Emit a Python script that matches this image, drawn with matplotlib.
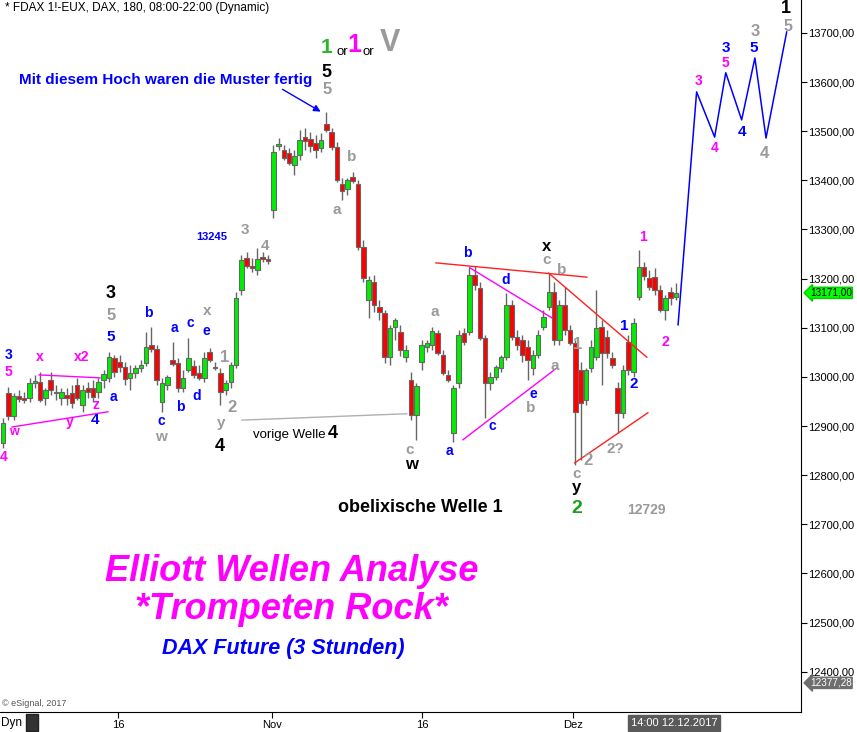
import numpy as np
import matplotlib
matplotlib.use("Agg")
import matplotlib.pyplot as plt
import matplotlib.transforms as mtransforms
from matplotlib.patches import Rectangle

plt.rcParams['font.family'] = ['Liberation Sans', 'DejaVu Sans']

# 3h candles FDAX, (open, high, low, close)
ohlc = [
    (12865, 12916, 12855, 12906), (12967, 12979, 12912, 12920), (12920, 12967, 12912, 12961),
    (12961, 12973, 12949, 12955), (12957, 12969, 12947, 12953), (12957, 12998, 12949, 12988),
    (12988, 13004, 12977, 12990), (12990, 13010, 12949, 12953), (12957, 12977, 12943, 12973),
    (12994, 13010, 12963, 12973), (12969, 12984, 12953, 12967), (12957, 12977, 12943, 12969),
    (12963, 12977, 12943, 12957), (12967, 12984, 12937, 12947), (12984, 12998, 12953, 12957),
    (12943, 12984, 12929, 12973), (12977, 12990, 12957, 12969), (12977, 12994, 12949, 12959),
    (12969, 12998, 12957, 12990), (12994, 13014, 12977, 13006), (12998, 13051, 12990, 13040),
    (13038, 13045, 13000, 13010), (13030, 13045, 13010, 13020), (13020, 13030, 12984, 12996),
    (12998, 13024, 12973, 13008), (13008, 13024, 12998, 13018), (13018, 13034, 13010, 13024),
    (13028, 13091, 13022, 13061), (13065, 13102, 13051, 13057), (13057, 13065, 12984, 12994),
    (12949, 12998, 12929, 12988), (12984, 13004, 12973, 13000), (13034, 13071, 13022, 13026),
    (13028, 13038, 12969, 12977), (12977, 13014, 12969, 12998), (13014, 13079, 13010, 13038),
    (13022, 13034, 12998, 13004), (13008, 13024, 12994, 12998), (12998, 13051, 12990, 13038),
    (13051, 13059, 13030, 13034), (13020, 13030, 13014, 13018), (13008, 13018, 12943, 12969),
    (12973, 12994, 12963, 12988), (12990, 13030, 12977, 13024), (13024, 13173, 13018, 13161),
    (13177, 13248, 13167, 13238), (13242, 13254, 13222, 13226), (13226, 13242, 13213, 13222),
    (13218, 13262, 13207, 13240), (13244, 13254, 13234, 13240), (13238, 13248, 13230, 13236),
    (13340, 13472, 13323, 13458), (13470, 13486, 13462, 13474), (13462, 13472, 13441, 13445),
    (13456, 13466, 13431, 13435), (13431, 13462, 13411, 13450), (13452, 13502, 13441, 13482),
    (13488, 13506, 13462, 13480), (13484, 13498, 13458, 13470), (13476, 13492, 13445, 13462),
    (13466, 13496, 13458, 13482), (13515, 13539, 13498, 13502), (13498, 13506, 13462, 13468),
    (13468, 13478, 13397, 13401), (13393, 13405, 13360, 13378), (13382, 13405, 13370, 13401),
    (13407, 13417, 13395, 13399), (13393, 13401, 13258, 13264), (13264, 13279, 13193, 13201),
    (13157, 13205, 13120, 13197), (13193, 13207, 13132, 13146), (13142, 13157, 13116, 13132),
    (13130, 13136, 13028, 13040), (13040, 13106, 13024, 13100), (13102, 13120, 13075, 13116),
    (13091, 13106, 13043, 13055), (13040, 13065, 13030, 13055), (12994, 13010, 12912, 12922),
    (12922, 12988, 12872, 12981), (13030, 13075, 13014, 13065), (13061, 13075, 13051, 13069),
    (13065, 13102, 13055, 13093), (13089, 13095, 13045, 13049), (13045, 13055, 13004, 13008),
    (13004, 13014, 12990, 12994), (12886, 12984, 12868, 12977), (12988, 13095, 12977, 13085),
    (13089, 13100, 13065, 13071), (13091, 13224, 13085, 13207), (13207, 13226, 13177, 13187),
    (13181, 13193, 13075, 13079), (13079, 13085, 12916, 12988), (12988, 13010, 12973, 13000),
    (13000, 13024, 12994, 13020), (13018, 13045, 13010, 13040), (13040, 13171, 13034, 13146),
    (13146, 13157, 13075, 13081), (13081, 13095, 13055, 13065), (13075, 13085, 13030, 13045),
    (13061, 13075, 12994, 13034), (13018, 13055, 13004, 13045), (13045, 13095, 13038, 13085),
    (13102, 13136, 13095, 13122), (13142, 13211, 13136, 13173), (13173, 13193, 13065, 13075),
    (13075, 13157, 13065, 13146), (13146, 13183, 13085, 13095), (13095, 13106, 13065, 13069),
    (13069, 13075, 12821, 12929), (13014, 13030, 12831, 12947), (12953, 13018, 12943, 13014),
    (13018, 13075, 13010, 13061), (13040, 13177, 13034, 13100), (13102, 13116, 12984, 13049),
    (13081, 13095, 13038, 13049), (13038, 13051, 13018, 13024), (12977, 12990, 12886, 12927),
    (12927, 13024, 12916, 13014), (13071, 13085, 13004, 13014), (13010, 13120, 13000, 13110),
    (13163, 13258, 13157, 13224), (13224, 13234, 13197, 13205), (13201, 13218, 13177, 13183),
    (13204, 13222, 13167, 13177), (13177, 13187, 13132, 13136), (13136, 13167, 13116, 13161),
    (13173, 13183, 13146, 13161), (13163, 13191, 13157, 13171),
]
opens, highs, lows, closes = np.array(ohlc, dtype=float).T

# projected wave path (bar index, price)
proj_x = [127.4, 130.9, 134.3, 136.4, 139.4, 141.9, 144.0, 147.9]
proj_y = [13106, 13580, 13488, 13619, 13523, 13649, 13486, 13702]

date_pos = [21.7, 50.8, 79.1, 107.5]
date_labels = ['16', 'Nov', '16', 'Dez']
price_ticks = np.arange(12400, 13701, 100)
last_price = 13171.00
low_price = 12377.28

# trend lines: (x0, y0, x1, y1, color)
trend_lines = [
    (6.8, 13004, 18.3, 12998, '#ff00ff'),
    (1.7, 12898, 19.8, 12929, '#ff00ff'),
    (45.1, 12912, 76.2, 12925, '#b0b0b0'),
    (81.7, 13232, 110.2, 13203, '#ff2020'),
    (88.1, 13222, 103.6, 13120, '#ff00ff'),
    (86.8, 12872, 104.5, 13018, '#ff00ff'),
    (103.0, 13211, 121.5, 13040, '#ff2020'),
    (107.9, 12825, 121.7, 12927, '#ff2020'),
]

BLUE, MAG, GREY, BLK = '#0000ff', '#ff00ff', '#9a9a9a', '#000000'
# wave labels: (text, x, price, color, size)
labels = [
    ('3', 1.1, 13045, BLUE, 10), ('5', 1.1, 13010, MAG, 10), ('4', 0.2, 12837, MAG, 10),
    ('w', 2.1, 12888, MAG, 9), ('x', 7.0, 13040, MAG, 10), ('x2', 14.9, 13040, MAG, 10),
    ('y', 12.5, 12908, MAG, 10), ('z', 17.5, 12943, MAG, 10), ('4', 17.4, 12912, BLUE, 11),
    ('a', 20.8, 12959, BLUE, 10), ('3', 20.4, 13169, BLK, 13), ('5', 20.4, 13124, GREY, 12),
    ('5', 20.4, 13081, BLUE, 11), ('b', 27.5, 13130, BLUE, 10), ('c', 29.8, 12910, BLUE, 10),
    ('w', 29.8, 12878, GREY, 11), ('a', 32.3, 13100, BLUE, 10), ('c', 35.3, 13110, BLUE, 10),
    ('e', 38.3, 13093, BLUE, 10), ('x', 38.5, 13134, GREY, 11), ('b', 33.4, 12939, BLUE, 10),
    ('d', 36.6, 12961, BLUE, 10), ('1', 41.9, 13040, GREY, 12), ('2', 43.2, 12937, GREY, 12),
    ('y', 41.1, 12906, GREY, 11), ('4', 40.9, 12859, BLK, 13), ('13245', 39.4, 13285, BLUE, 8),
    ('3', 45.7, 13299, GREY, 11), ('4', 49.4, 13266, GREY, 11), ('4', 62.3, 12884, BLK, 13),
    ('5', 61.1, 13620, BLK, 13), ('5', 61.1, 13584, GREY, 12), ('b', 65.8, 13448, GREY, 11),
    ('a', 63.0, 13340, GREY, 11), ('c', 76.8, 12851, GREY, 11), ('w', 77.0, 12821, BLK, 12),
    ('a', 81.5, 13132, GREY, 11), ('a', 84.3, 12849, BLUE, 10), ('b', 87.7, 13252, BLUE, 10),
    ('c', 92.3, 12900, BLUE, 10), ('d', 94.9, 13197, BLUE, 10), ('e', 100.0, 12965, BLUE, 10),
    ('b', 99.6, 12937, GREY, 11), ('a', 104.2, 13022, GREY, 11), ('x', 102.5, 13266, BLK, 12),
    ('c', 102.6, 13238, GREY, 11), ('b', 105.5, 13218, GREY, 11), ('1', 108.5, 13065, GREY, 12),
    ('2', 110.4, 12829, GREY, 12), ('c', 108.3, 12802, GREY, 11), ('y', 108.3, 12774, BLK, 12),
    ('2', 108.3, 12733, '#1f9f1f', 14), ('2?', 115.5, 12853, GREY, 11), ('1', 117.2, 13104, BLUE, 11),
    ('2', 119.1, 12986, BLUE, 11), ('1', 120.8, 13285, MAG, 10), ('2', 124.9, 13071, MAG, 10),
    ('12729', 121.5, 12729, GREY, 10), ('3', 131.3, 13602, MAG, 10), ('4', 134.3, 13466, MAG, 10),
    ('3', 136.4, 13669, BLUE, 11), ('5', 136.4, 13639, MAG, 10), ('4', 139.4, 13498, BLUE, 11),
    ('3', 141.9, 13702, GREY, 12), ('5', 141.7, 13669, BLUE, 11), ('4', 143.6, 13454, GREY, 12),
    ('1', 147.7, 13750, BLK, 13), ('5', 148.1, 13714, GREY, 11.5),
]

W, H = 857, 732
fig = plt.figure(figsize=(W / 100, H / 100), dpi=100)
fig.patch.set_facecolor('white')
ax = fig.add_axes([0, 20 / H, 801 / W, 712 / H])
ax.set_xlim(-0.57, 150.6)
ax.set_ylim(12318, 13767)

idx = np.arange(len(closes))
up = closes >= opens
ax.vlines(idx, lows, highs, color='#666666', lw=1, zorder=2)
body_lo = np.minimum(opens, closes)
body_h = np.maximum(np.abs(closes - opens), 3)
ax.bar(idx, body_h, bottom=body_lo, width=0.86,
       color=np.where(up, '#00ee00', '#ff0000'), edgecolor='#666666',
       linewidth=0.8, zorder=3)

for x0, y0, x1, y1, c in trend_lines:
    ax.plot([x0, x1], [y0, y1], color=c, lw=1, zorder=4)

ax.plot(proj_x, proj_y, color='#0000ff', lw=1.1, zorder=4)

for t, x, y, c, s in labels:
    ax.text(x, y, t, color=c, fontsize=s, fontweight='bold', ha='center', va='center', zorder=5)

# header / notes
ax.text(30.6, 13604, 'Mit diesem Hoch waren die Muster fertig', color=BLUE,
        fontsize=11, fontweight='bold', ha='center', va='center')
ax.annotate('', xy=(60.4, 13537), xytext=(52.3, 13588),
            arrowprops=dict(arrowstyle='-|>', color=BLUE, lw=1, mutation_scale=10))
ax.text(61.1, 13671, '1', color='#2db52d', fontsize=15, fontweight='bold', ha='center', va='center')
ax.text(64.0, 13662, 'or', color=BLK, fontsize=9.5, ha='center', va='center')
ax.text(66.4, 13675, '1', color=MAG, fontsize=18, fontweight='bold', ha='center', va='center')
ax.text(68.9, 13662, 'or', color=BLK, fontsize=9.5, ha='center', va='center')
ax.text(73.0, 13680, 'V', color=GREY, fontsize=22, fontweight='bold', ha='center', va='center')
ax.text(47.2, 12882, 'vorige Welle', color=BLK, fontsize=9.5, ha='left', va='center')
ax.text(78.7, 12735, 'obelixische Welle 1', color=BLK, fontsize=13,
        fontweight='bold', ha='center', va='center')

ax.text(54.5, 12603, 'Elliott Wellen Analyse', color=MAG, fontsize=26,
        fontweight='bold', style='italic', ha='center', va='center')
ax.text(54.5, 12527, '*Trompeten Rock*', color=MAG, fontsize=26,
        fontweight='bold', style='italic', ha='center', va='center')
ax.text(52.8, 12448, 'DAX Future (3 Stunden)', color=BLUE, fontsize=15.5,
        fontweight='bold', style='italic', ha='center', va='center')

fig.text(5 / W, 1 - 8 / H, '* FDAX 1!-EUX, DAX, 180, 08:00-22:00 (Dynamic)',
         fontsize=8.5, va='center', ha='left')
fig.text(2 / W, 1 - 703 / H, '© eSignal, 2017', fontsize=6.5, color='#555555', va='center')

# axes styling
for s in ['top', 'left']:
    ax.spines[s].set_visible(False)
ax.spines['right'].set_color('black')
ax.spines['bottom'].set_color('black')
ax.yaxis.tick_right()
ax.set_yticks(price_ticks)
ax.set_yticklabels([f'{v:.2f}'.replace('.', ',') for v in price_ticks])
ax.tick_params(axis='y', direction='out', length=4, labelsize=8, pad=1)
ax.set_xticks(date_pos)
ax.set_xticklabels(date_labels)
ax.tick_params(axis='x', direction='out', length=4, labelsize=8, pad=2)

# price tags on the right axis
tr = mtransforms.blended_transform_factory(ax.transAxes, ax.transData)
ax.text(1.011, last_price, f'{last_price:.2f}'.replace('.', ','), transform=tr,
        fontsize=7.2, va='center', ha='left', color='black', clip_on=False,
        bbox=dict(boxstyle='larrow,pad=0.06', fc='#00ff00', ec='#00cc00'))
ax.text(1.011, low_price, f'{low_price:.2f}'.replace('.', ','), transform=tr,
        fontsize=7.2, va='center', ha='left', color='white', clip_on=False,
        bbox=dict(boxstyle='larrow,pad=0.06', fc='#6e6e6e', ec='#6e6e6e'))

# bottom strip
fig.text(1 / W, 9 / H, 'Dyn', fontsize=8.5, va='center', ha='left')
fig.patches.append(Rectangle((26 / W, 1 / H), 12 / W, 17 / H, transform=fig.transFigure,
                             fc='#333333', ec='#222222', figure=fig))
fig.text(674 / W, 9 / H, '14:00 12.12.2017', fontsize=8, color='white', va='center', ha='center',
         bbox=dict(boxstyle='square,pad=0.25', fc='#5a5a5a', ec='#5a5a5a'))

fig.savefig('out.png', dpi=100, facecolor='white')
